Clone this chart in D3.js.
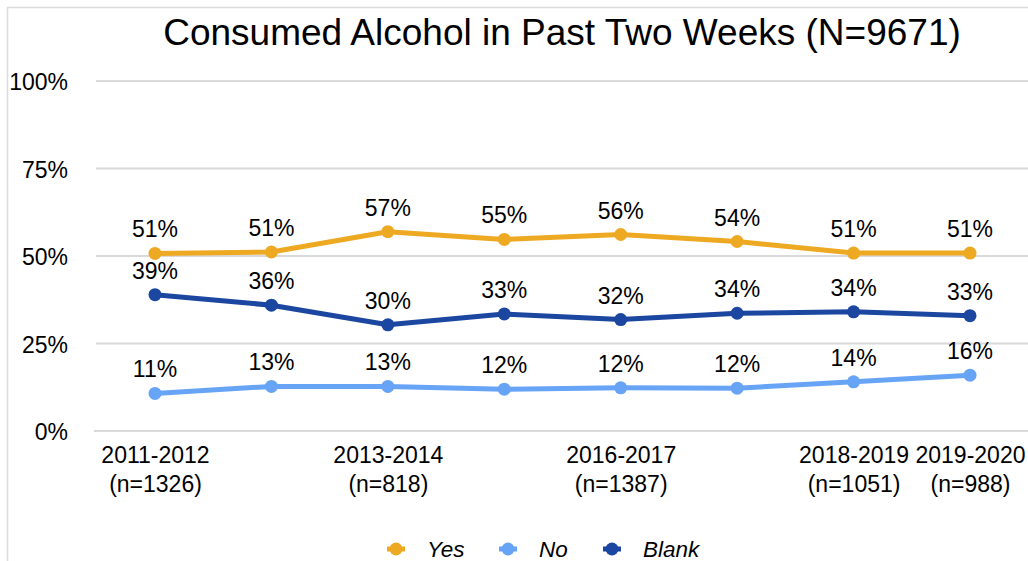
<!DOCTYPE html>
<html>
<head>
<meta charset="utf-8">
<script src="https://cdn.jsdelivr.net/npm/d3@7"></script>
<style>
  html, body { margin: 0; padding: 0; background: #fff; }
  svg { display: block; font-family: "Liberation Sans", Arial, Helvetica, sans-serif; }
</style>
</head>
<body>
<svg id="chart"></svg>
<script>
/*
Data
*/

// survey waves (some tick labels are hidden in the original)
const categories = [0, 1, 2, 3, 4, 5, 6, 7];
const tickYears  = ["2011-2012", "", "2013-2014", "", "2016-2017", "", "2018-2019", "2019-2020"];
const tickCounts = ["(n=1326)", "", "(n=818)", "", "(n=1387)", "", "(n=1051)", "(n=988)"];

const yesValues   = [50.6, 51.0, 56.8, 54.6, 56.0, 54.0, 50.7, 50.7];
const noValues    = [10.6, 12.6, 12.6, 11.8, 12.2, 12.1, 13.9, 15.8];
const blankValues = [38.8, 35.8, 30.2, 33.3, 31.7, 33.5, 33.9, 32.8];

const yTicks = [0, 25, 50, 75, 100];

const series = [
  { name: "Yes",   values: yesValues,   color: "#eea923" },
  { name: "No",    values: noValues,    color: "#68a4f6" },
  { name: "Blank", values: blankValues, color: "#1b47a0" }
];

/*
Setup
*/

const width  = 1028;
const height = 561;

const svg = d3.select("#chart")
  .attr("width", width)
  .attr("height", height)
  .attr("viewBox", "0 0 " + width + " " + height);

// scales
const x = d3.scalePoint()
  .domain(categories)
  .range([155, 970]);

const y = d3.scaleLinear()
  .domain([0, 100])
  .range([430.5, 80.5]);

const pct = d => d3.format(".0f")(d) + "%";

// outer frame
svg.append("rect")
  .attr("x", 7.5)
  .attr("y", 7.5)
  .attr("width", width + 20)
  .attr("height", height + 20)
  .attr("fill", "none")
  .attr("stroke", "#dcdcdc")
  .attr("stroke-width", 1.5);

// title
svg.append("text")
  .attr("x", 562)
  .attr("y", 45)
  .attr("text-anchor", "middle")
  .attr("font-size", 37)
  .attr("fill", "#000")
  .text("Consumed Alcohol in Past Two Weeks (N=9671)");

/*
Axes
*/

// y gridlines + labels
const yAxis = svg.append("g")
  .attr("transform", "translate(96,0)")
  .call(d3.axisLeft(y)
    .tickValues(yTicks)
    .tickSize(-(width - 96 + 10))
    .tickPadding(28)
    .tickFormat(d => d + "%"));

yAxis.select(".domain").remove();
yAxis.selectAll(".tick line")
  .attr("stroke", "#d9d9d9")
  .attr("stroke-width", 2);
yAxis.selectAll(".tick text")
  .attr("font-size", 23)
  .attr("font-family", null)
  .attr("fill", "#000")
  .attr("dy", "0.4em");
yAxis.selectAll(".tick").filter(d => d === 0).select("line")
  .attr("x1", -2);

// x labels (two lines each)
const xAxis = svg.append("g")
  .attr("transform", "translate(0,430.5)")
  .call(d3.axisBottom(x).tickSize(0).tickFormat(""));

xAxis.select(".domain").remove();
xAxis.selectAll(".tick text").remove();
xAxis.selectAll(".tick")
  .append("text")
  .attr("text-anchor", "middle")
  .attr("font-size", 23)
  .attr("fill", "#000")
  .each(function (d) {
    const t = d3.select(this);
    t.append("tspan").attr("x", 0).attr("y", 32).text(tickYears[d]);
    t.append("tspan").attr("x", 0).attr("y", 61).text(tickCounts[d]);
  });

/*
Series
*/

const line = d3.line()
  .x((d, i) => x(categories[i]))
  .y(d => y(d));

const groups = svg.append("g")
  .selectAll("g")
  .data(series)
  .enter()
  .append("g");

groups.append("path")
  .attr("d", d => line(d.values))
  .attr("fill", "none")
  .attr("stroke", d => d.color)
  .attr("stroke-width", 5)
  .attr("stroke-linejoin", "round");

groups.selectAll("circle")
  .data(d => d.values.map(v => ({ v: v, color: d.color })))
  .enter()
  .append("circle")
  .attr("cx", (d, i) => x(categories[i]))
  .attr("cy", d => y(d.v))
  .attr("r", 6.5)
  .attr("fill", d => d.color);

groups.selectAll("text.label")
  .data(d => d.values)
  .enter()
  .append("text")
  .classed("label", true)
  .attr("x", (d, i) => x(categories[i]))
  .attr("y", d => y(d) - 16)
  .attr("text-anchor", "middle")
  .attr("font-size", 23)
  .attr("fill", "#000")
  .text(pct);

/*
Legend
*/

const legendX = [396, 508, 612];

const legend = svg.append("g")
  .selectAll("g")
  .data(series)
  .enter()
  .append("g")
  .attr("transform", (d, i) => "translate(" + legendX[i] + ",549)");

legend.append("line")
  .attr("x1", -9)
  .attr("x2", 9)
  .attr("stroke", d => d.color)
  .attr("stroke-width", 5);

legend.append("circle")
  .attr("r", 6.5)
  .attr("fill", d => d.color);

legend.append("text")
  .attr("x", 31)
  .attr("y", 8)
  .attr("font-size", 22.5)
  .attr("font-style", "italic")
  .attr("fill", "#000")
  .text(d => d.name);
</script>
</body>
</html>
